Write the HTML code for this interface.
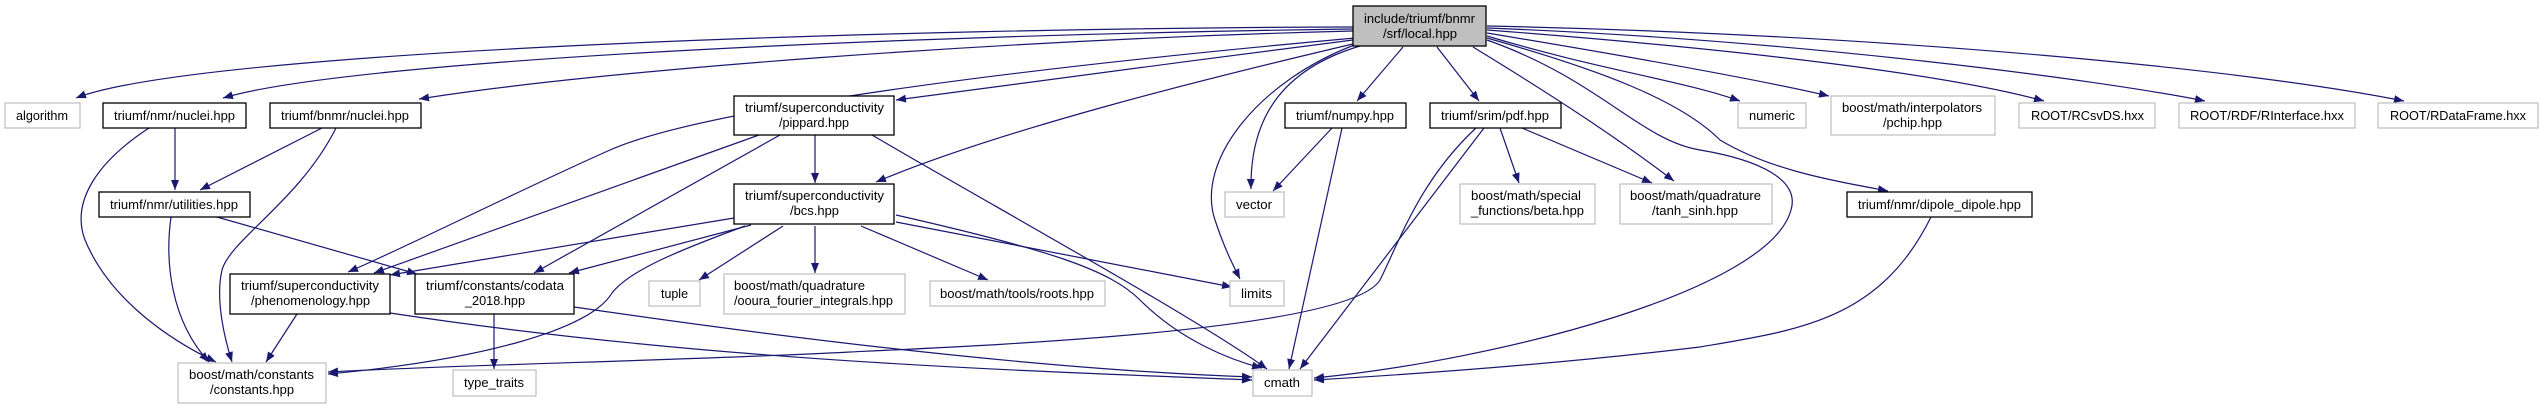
<!DOCTYPE html>
<html><head><meta charset="utf-8"><style>
html,body{margin:0;padding:0;background:#fff;}
svg{display:block;}
text{font-family:"Liberation Sans",sans-serif;font-size:13px;fill:#000;}
.e{fill:none;stroke:#191970;stroke-width:1.2;marker-end:url(#a);}
.b{fill:#fff;stroke:#000;stroke-width:1.3;}
.g{fill:#fff;stroke:#bfbfbf;stroke-width:1.2;}
</style></head><body>
<svg width="2539" height="409" viewBox="0 0 2539 409" xmlns="http://www.w3.org/2000/svg">
<defs><marker id="a" markerUnits="userSpaceOnUse" markerWidth="11" markerHeight="8" refX="10" refY="4" orient="auto"><path d="M0,0 L10,4 L0,8 z" fill="#191970"/></marker></defs>

<!-- edges from local -->
<path class="e" d="M1353,27 C900,28 200,50 76,98"/>
<path class="e" d="M1353,29 C900,35 350,60 223,98"/>
<path class="e" d="M1353,31 C1000,40 600,70 419,99"/>
<path class="e" d="M1355,38 C1000,70 700,110 610,150 S400,250 348,272"/>
<path class="e" d="M1353,40 C1200,60 1000,85 896,100"/>
<path class="e" d="M1357,43 C1200,80 1000,130 876,182"/>
<path class="e" d="M1360,46 C1280,70 1250,120 1251,189"/>
<path class="e" d="M1357,44 C1260,80 1195,160 1215,220 C1225,250 1233,265 1240,279"/>
<path class="e" d="M1403,47 L1357,101"/>
<path class="e" d="M1437,47 L1479,101"/>
<path class="e" d="M1473,47 C1560,100 1620,140 1674,181"/>
<path class="e" d="M1487,40 C1600,80 1640,140 1700,150 C1760,160 1800,180 1791,210 C1770,290 1500,360 1314,378"/>
<path class="e" d="M1487,38 C1600,70 1680,100 1720,140 C1770,170 1830,180 1888,191"/>
<path class="e" d="M1487,36 C1600,70 1680,80 1740,101"/>
<path class="e" d="M1487,33 C1650,60 1760,80 1829,96"/>
<path class="e" d="M1487,30 C1750,50 1950,75 2044,101"/>
<path class="e" d="M1487,28 C1800,40 2100,80 2205,101"/>
<path class="e" d="M1487,26 C1900,35 2250,70 2404,101"/>

<!-- other edges -->
<path class="e" d="M175,128 L175,190"/>
<path class="e" d="M149,128 C100,160 70,200 85,240 C110,300 170,340 216,362"/>
<path class="e" d="M322,128 L200,190"/>
<path class="e" d="M336,128 C300,200 230,240 222,270 C215,300 225,340 232,362"/>
<path class="e" d="M171,217 C165,260 170,320 209,362"/>
<path class="e" d="M217,217 L417,274"/>
<path class="e" d="M297,314 L266,362"/>
<path class="e" d="M390,313 C700,360 1000,370 1252,380"/>
<path class="e" d="M494,314 L494,369"/>
<path class="e" d="M574,307 C800,340 1050,370 1252,377"/>
<path class="e" d="M815,135 L815,183"/>
<path class="e" d="M759,135 L374,273"/>
<path class="e" d="M780,135 L534,273"/>
<path class="e" d="M872,135 C1000,210 1200,320 1267,369"/>
<path class="e" d="M734,218 L390,275"/>
<path class="e" d="M751,225 L569,273"/>
<path class="e" d="M745,226 C680,250 630,270 612,293 C590,330 480,360 328,374"/>
<path class="e" d="M783,226 L699,280"/>
<path class="e" d="M815,226 L815,273"/>
<path class="e" d="M861,226 L988,280"/>
<path class="e" d="M896,222 L1232,287"/>
<path class="e" d="M896,215 C1050,250 1110,270 1140,300 C1180,340 1230,360 1262,368"/>
<path class="e" d="M1332,128 L1273,191"/>
<path class="e" d="M1342,128 L1289,369"/>
<path class="e" d="M1476,128 C1420,180 1400,240 1380,280 C1350,330 1000,345 850,352 C700,360 450,365 328,372"/>
<path class="e" d="M1484,128 L1300,369"/>
<path class="e" d="M1500,128 L1519,183"/>
<path class="e" d="M1522,128 L1652,183"/>
<path class="e" d="M1931,217 C1880,320 1800,330 1700,347 C1550,365 1400,375 1314,380"/>

<!-- nodes -->
<rect x="1353" y="6" width="133" height="40" fill="#bfbfbf" stroke="#000" stroke-width="1.3"/>
<text x="1364" y="23" textLength="111" lengthAdjust="spacingAndGlyphs">include/triumf/bnmr</text>
<text x="1383" y="38" textLength="74" lengthAdjust="spacingAndGlyphs">/srf/local.hpp</text>

<rect class="g" x="5" y="103" width="75" height="25"/>
<text x="16" y="120" textLength="52" lengthAdjust="spacingAndGlyphs">algorithm</text>
<rect class="b" x="103" y="103" width="143" height="25"/>
<text x="114" y="120" textLength="121" lengthAdjust="spacingAndGlyphs">triumf/nmr/nuclei.hpp</text>
<rect class="b" x="270" y="103" width="151" height="25"/>
<text x="281" y="120" textLength="128" lengthAdjust="spacingAndGlyphs">triumf/bnmr/nuclei.hpp</text>

<rect class="b" x="734" y="96" width="160" height="39"/>
<text x="745" y="112" textLength="139" lengthAdjust="spacingAndGlyphs">triumf/superconductivity</text>
<text x="779" y="127" textLength="70" lengthAdjust="spacingAndGlyphs">/pippard.hpp</text>
<rect class="b" x="734" y="184" width="160" height="40"/>
<text x="745" y="200" textLength="139" lengthAdjust="spacingAndGlyphs">triumf/superconductivity</text>
<text x="790" y="215" textLength="49" lengthAdjust="spacingAndGlyphs">/bcs.hpp</text>

<rect class="b" x="99" y="192" width="151" height="25"/>
<text x="110" y="209" textLength="128" lengthAdjust="spacingAndGlyphs">triumf/nmr/utilities.hpp</text>

<rect class="b" x="230" y="274" width="160" height="40"/>
<text x="241" y="290" textLength="138" lengthAdjust="spacingAndGlyphs">triumf/superconductivity</text>
<text x="251" y="305" textLength="119" lengthAdjust="spacingAndGlyphs">/phenomenology.hpp</text>
<rect class="b" x="415" y="274" width="159" height="40"/>
<text x="426" y="290" textLength="138" lengthAdjust="spacingAndGlyphs">triumf/constants/codata</text>
<text x="465" y="305" textLength="60" lengthAdjust="spacingAndGlyphs">_2018.hpp</text>

<rect class="g" x="649" y="281" width="51" height="25"/>
<text x="661" y="298" textLength="27" lengthAdjust="spacingAndGlyphs">tuple</text>
<rect class="g" x="724" y="274" width="181" height="40"/>
<text x="734" y="290" textLength="131" lengthAdjust="spacingAndGlyphs">boost/math/quadrature</text>
<text x="734" y="305" textLength="159" lengthAdjust="spacingAndGlyphs">/ooura_fourier_integrals.hpp</text>
<rect class="g" x="930" y="281" width="175" height="25"/>
<text x="940" y="298" textLength="154" lengthAdjust="spacingAndGlyphs">boost/math/tools/roots.hpp</text>

<rect class="g" x="178" y="363" width="148" height="40"/>
<text x="189" y="379" textLength="125" lengthAdjust="spacingAndGlyphs">boost/math/constants</text>
<text x="210" y="394" textLength="84" lengthAdjust="spacingAndGlyphs">/constants.hpp</text>
<rect class="g" x="453" y="370" width="83" height="26"/>
<text x="464" y="387" textLength="60" lengthAdjust="spacingAndGlyphs">type_traits</text>

<rect class="g" x="1225" y="192" width="59" height="25"/>
<text x="1236" y="209" textLength="36" lengthAdjust="spacingAndGlyphs">vector</text>
<rect class="g" x="1230" y="281" width="54" height="25"/>
<text x="1241" y="298" textLength="31" lengthAdjust="spacingAndGlyphs">limits</text>
<rect class="g" x="1253" y="370" width="59" height="26"/>
<text x="1264" y="387" textLength="36" lengthAdjust="spacingAndGlyphs">cmath</text>

<rect class="b" x="1285" y="103" width="121" height="25"/>
<text x="1296" y="120" textLength="98" lengthAdjust="spacingAndGlyphs">triumf/numpy.hpp</text>
<rect class="b" x="1430" y="103" width="131" height="25"/>
<text x="1441" y="120" textLength="108" lengthAdjust="spacingAndGlyphs">triumf/srim/pdf.hpp</text>

<rect class="g" x="1460" y="184" width="135" height="40"/>
<text x="1471" y="200" textLength="110" lengthAdjust="spacingAndGlyphs">boost/math/special</text>
<text x="1471" y="215" textLength="113" lengthAdjust="spacingAndGlyphs">_functions/beta.hpp</text>
<rect class="g" x="1620" y="184" width="152" height="40"/>
<text x="1630" y="200" textLength="131" lengthAdjust="spacingAndGlyphs">boost/math/quadrature</text>
<text x="1652" y="215" textLength="86" lengthAdjust="spacingAndGlyphs">/tanh_sinh.hpp</text>

<rect class="g" x="1738" y="103" width="68" height="25"/>
<text x="1749" y="120" textLength="46" lengthAdjust="spacingAndGlyphs">numeric</text>
<rect class="g" x="1831" y="96" width="164" height="39"/>
<text x="1842" y="112" textLength="140" lengthAdjust="spacingAndGlyphs">boost/math/interpolators</text>
<text x="1883" y="127" textLength="59" lengthAdjust="spacingAndGlyphs">/pchip.hpp</text>
<rect class="g" x="2019" y="103" width="136" height="25"/>
<text x="2031" y="120" textLength="113" lengthAdjust="spacingAndGlyphs">ROOT/RCsvDS.hxx</text>
<rect class="g" x="2179" y="103" width="176" height="25"/>
<text x="2190" y="120" textLength="154" lengthAdjust="spacingAndGlyphs">ROOT/RDF/RInterface.hxx</text>
<rect class="g" x="2378" y="103" width="160" height="25"/>
<text x="2390" y="120" textLength="136" lengthAdjust="spacingAndGlyphs">ROOT/RDataFrame.hxx</text>
<rect class="b" x="1847" y="192" width="185" height="25"/>
<text x="1858" y="209" textLength="163" lengthAdjust="spacingAndGlyphs">triumf/nmr/dipole_dipole.hpp</text>
</svg>
</body></html>
